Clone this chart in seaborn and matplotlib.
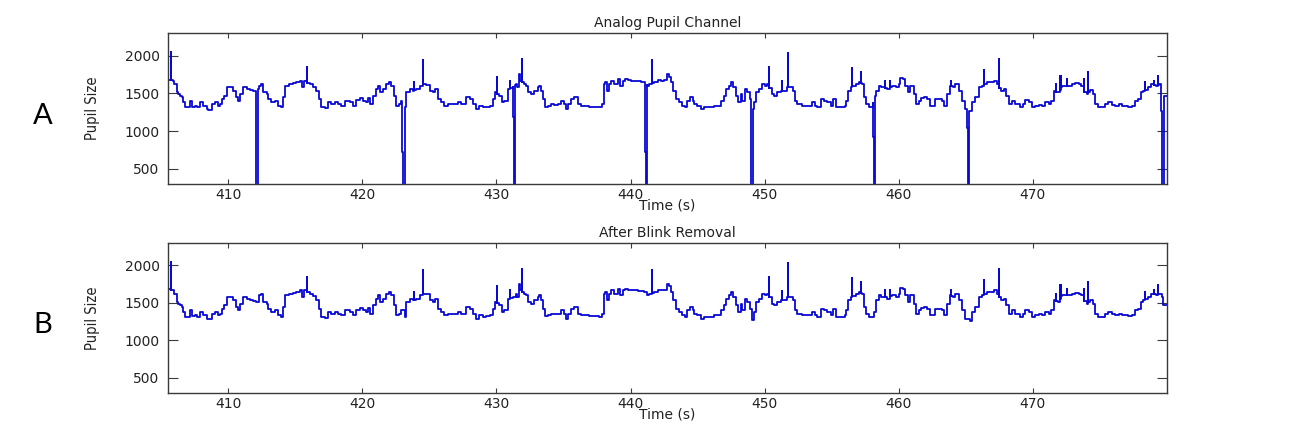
import numpy as np
import pandas as pd
import matplotlib
matplotlib.use("Agg")
import matplotlib.pyplot as plt
import seaborn as sns

# pupil trace after blink removal (time in s, pupil size)
base_t = [405.50, 405.90, 405.97, 406.15, 406.27, 406.39, 406.52, 406.64, 406.77, 407.01,
          407.14, 407.26, 407.51, 407.63, 407.88, 408.13, 408.38, 408.50, 408.75, 409.00,
          409.20, 409.37, 409.50, 409.69, 409.87, 410.12, 410.37, 410.54, 410.69, 410.86,
          411.11, 411.36, 411.61, 411.85, 412.10, 412.28, 412.47, 412.60, 412.85, 412.97,
          413.17, 413.34, 413.52, 413.72, 413.91, 414.09, 414.26, 414.51, 414.83, 415.08,
          415.33, 415.50, 415.65, 416.07, 416.32, 416.57, 416.74, 416.94, 417.19, 417.44,
          417.69, 417.94, 418.18, 418.43, 418.68,
          418.80, 419.05, 419.30, 419.55, 419.80, 420.04, 420.24, 420.42, 420.59, 420.79,
          420.99, 421.16, 421.33, 421.53, 421.78, 421.98, 422.15, 422.33, 422.53, 422.72,
          422.90, 423.15, 423.27, 423.52, 423.77, 424.02, 424.26, 424.51, 424.76, 425.01,
          425.26, 425.45, 425.63, 425.88, 426.12, 426.37, 426.75, 427.12, 427.37, 427.69,
          427.99, 428.24, 428.48, 428.73, 428.98, 429.23, 429.48, 429.72, 429.92, 430.22,
          430.42, 430.59, 430.84, 431.21, 431.46,
          431.54, 431.71, 431.78, 432.03, 432.21, 432.38, 432.58, 432.83, 433.08, 433.20,
          433.32, 433.45, 433.62, 433.82, 434.07, 434.32, 434.56, 434.81, 435.01, 435.19,
          435.36, 435.56, 435.81, 436.05, 436.30, 436.55, 436.92, 437.30, 437.67, 437.84,
          437.99, 438.09, 438.24, 438.41, 438.54, 438.74, 438.91, 439.08, 439.23, 439.40,
          439.58, 439.78, 440.03, 440.27, 440.52, 440.77, 441.02, 441.22, 441.39, 441.76,
          442.01, 442.26, 442.51, 442.71, 442.88, 443.00, 443.20, 443.38, 443.62, 443.87,
          444.05, 444.24, 444.44, 444.62,
          444.74, 444.99, 445.24, 445.48, 445.86, 446.23, 446.48, 446.73, 446.97, 447.15,
          447.35, 447.52, 447.64, 447.84, 448.04, 448.22, 448.34, 448.54, 448.71, 448.89,
          449.08, 449.21, 449.33, 449.58, 449.83, 450.03, 450.20, 450.52, 450.70, 450.94,
          451.19, 451.44, 451.57, 451.69, 451.94, 452.11, 452.26, 452.43, 452.81, 453.18,
          453.50, 453.75, 453.92, 454.17, 454.42, 454.67, 454.92, 455.09, 455.29, 455.66,
          455.98, 456.08, 456.23, 456.41, 456.78, 457.03, 457.27, 457.40, 457.57, 457.77,
          457.90, 458.14, 458.34, 458.52, 458.69, 458.89, 459.14, 459.51, 459.76, 460.01,
          460.13, 460.33, 460.50, 460.68, 460.87, 461.17, 461.32, 461.49, 461.67, 461.87,
          462.11, 462.31, 462.49, 462.74, 462.98, 463.23, 463.41, 463.60, 463.80, 464.05,
          464.22, 464.47, 464.72, 464.97, 465.29, 465.47, 465.71, 465.96, 466.21, 466.58,
          466.83, 467.08, 467.33, 467.63, 467.82, 468.02, 468.20, 468.44, 468.69, 469.01,
          469.26, 469.44, 469.68, 469.93, 470.18, 470.43, 470.68,
          470.92, 471.17, 471.37, 471.55, 471.87, 472.17, 472.36, 472.71, 472.91, 473.16,
          473.41, 473.61, 473.78, 474.03, 474.28, 474.45, 474.65, 474.85, 475.14, 475.39,
          475.64, 475.89, 476.14, 476.39, 476.63, 476.88, 477.13, 477.38, 477.63, 477.82,
          478.07, 478.25, 478.62, 478.82, 479.16, 479.41, 479.61, 479.74, 480.00]
base_v = [1680, 1670, 1625, 1514, 1492, 1470, 1448, 1381, 1314, 1314,
          1403, 1323, 1336, 1314, 1381, 1336, 1292, 1283, 1359, 1381,
          1336, 1359, 1425, 1470, 1581, 1581, 1536, 1448, 1403, 1492,
          1581, 1559, 1545, 1527, 1514, 1603, 1625, 1514, 1492, 1425,
          1381, 1381, 1403, 1336, 1314, 1448, 1603, 1625, 1634, 1647,
          1670, 1581, 1670, 1625, 1590, 1536, 1425, 1314, 1301, 1381,
          1359, 1381, 1359, 1336, 1403,
          1403, 1381, 1336, 1412, 1439, 1403, 1381, 1439, 1359, 1470,
          1559, 1603, 1514, 1559, 1625, 1647, 1603, 1470, 1336, 1359,
          1403, 1314, 1514, 1559, 1536, 1559, 1603, 1625, 1616, 1536,
          1514, 1559, 1425, 1381, 1336, 1359, 1359, 1381, 1359, 1448,
          1425, 1359, 1292, 1336, 1314, 1323, 1336, 1425, 1514, 1470,
          1381, 1403, 1559, 1581, 1625,
          1581, 1759, 1670, 1625, 1603, 1514, 1492, 1536, 1581, 1603,
          1536, 1425, 1323, 1336, 1359, 1350, 1359, 1403, 1359, 1292,
          1359, 1425, 1448, 1359, 1336, 1336, 1323, 1323, 1314, 1359,
          1625, 1647, 1536, 1625, 1670, 1625, 1625, 1692, 1603, 1670,
          1692, 1679, 1670, 1670, 1661, 1656, 1647, 1603, 1625, 1647,
          1679, 1670, 1679, 1759, 1723, 1647, 1536, 1425, 1381, 1336,
          1314, 1403, 1448, 1403,
          1359, 1336, 1292, 1314, 1314, 1336, 1336, 1403, 1470, 1559,
          1603, 1647, 1581, 1470, 1381, 1492, 1403, 1559, 1514, 1425,
          1270, 1381, 1514, 1559, 1625, 1603, 1625, 1492, 1470, 1514,
          1536, 1536, 1536, 1581, 1581, 1536, 1403, 1359, 1336, 1336,
          1381, 1336, 1314, 1425, 1403, 1381, 1336, 1425, 1314, 1314,
          1336, 1403, 1536, 1581, 1625, 1647, 1625, 1448, 1359, 1314,
          1314, 1381, 1536, 1603, 1581, 1581, 1559, 1603, 1581, 1625,
          1705, 1692, 1603, 1514, 1603, 1492, 1359, 1403, 1439, 1448,
          1425, 1336, 1336, 1425, 1425, 1403, 1336, 1492, 1603, 1581,
          1625, 1536, 1403, 1292, 1261, 1381, 1448, 1581, 1603, 1647,
          1647, 1670, 1625, 1536, 1559, 1470, 1359, 1403, 1359, 1314,
          1359, 1412, 1381, 1314, 1336, 1350, 1336,
          1381, 1359, 1403, 1536, 1514, 1603, 1603, 1603, 1625, 1634,
          1625, 1603, 1536, 1492, 1545, 1492, 1359, 1314, 1314, 1359,
          1381, 1350, 1336, 1359, 1336, 1336, 1323, 1336, 1403, 1425,
          1514, 1536, 1581, 1625, 1603, 1625, 1581, 1470, 1470]

# short upward spikes (time, peak)
spike_t = [405.70, 415.90, 423.82, 424.51, 430.05, 431.01, 431.88, 441.59, 450.32, 451.27,
           451.76, 456.53, 457.18, 458.96, 459.38, 463.90, 466.38, 467.50, 471.72, 471.99,
           472.12, 472.54, 473.85, 474.15, 478.37, 479.00, 479.31]
spike_v = [2047, 1847, 1647, 1936, 1723, 1670, 1959, 1945, 1847, 1661,
           2034, 1839, 1781, 1670, 1670, 1670, 1812, 1959, 1625, 1736,
           1736, 1692, 1692, 1781, 1647, 1670, 1736]

# blinks in the raw channel: start, end, level of the first drop
blink_start = [412.05, 422.95, 431.25, 441.10, 448.95, 458.10, 465.10, 479.55]
blink_end = [412.20, 423.15, 431.40, 441.20, 449.10, 458.25, 465.25, 479.75]
blink_step = [0, 725, 1190, 725, 1190, 924, 1035, 1260]

line_color = "#0808d2"


def add_spikes(t, v, st, sv):
    t, v = list(t), list(v)
    for ts, vs in zip(st, sv):
        b = float(np.interp(ts, t, v))
        i = int(np.searchsorted(t, ts))
        t[i:i] = [ts, ts, ts]
        v[i:i] = [b, vs, b]
    return t, v


def add_blinks(t, v, bs, be, bst):
    t, v = np.array(t), np.array(v)
    for s, e, lvl in zip(bs, be, bst):
        vs, ve = np.interp(s, t, v), np.interp(e, t, v)
        m = s + (e - s) * 0.4
        keep = (t < s) | (t > e)
        t, v = t[keep], v[keep]
        i = int(np.searchsorted(t, s))
        t = np.insert(t, i, [s, s, m, m, e, e])
        v = np.insert(v, i, [vs, lvl, lvl, 0, 0, ve])
    return t, v


clean_t, clean_v = add_spikes(base_t, base_v, spike_t, spike_v)
raw_t, raw_v = add_blinks(clean_t, clean_v, blink_start, blink_end, blink_step)

df_raw = pd.DataFrame({"Time (s)": raw_t, "Pupil Size": raw_v})
df_clean = pd.DataFrame({"Time (s)": clean_t, "Pupil Size": clean_v})

sns.set_style("white")
plt.rcParams["font.family"] = ["DejaVu Sans"]

fig = plt.figure(figsize=(12.9, 4.43), dpi=100)
ax1 = fig.add_axes([0.1302, 0.5847, 0.7744, 0.3409])
ax2 = fig.add_axes([0.1302, 0.1129, 0.7744, 0.3386])

panels = [(ax1, df_raw, "Analog Pupil Channel", "A"),
          (ax2, df_clean, "After Blink Removal", "B")]

for ax, df, title, letter in panels:
    sns.lineplot(data=df, x="Time (s)", y="Pupil Size", ax=ax, sort=False,
                 estimator=None, color=line_color, linewidth=1.3,
                 drawstyle="steps-post")
    ax.set_xlim(405.5, 480)
    ax.set_ylim(300, 2300)
    ax.set_xticks([410, 420, 430, 440, 450, 460, 470])
    ax.set_yticks([500, 1000, 1500, 2000])
    for sp in ax.spines.values():
        sp.set_visible(True)
        sp.set_color("#3a3a3a")
        sp.set_linewidth(1.0)
    ax.tick_params(axis="x", direction="in", length=3.5, width=0.8, top=True,
                   bottom=True, pad=3, labelsize=10, colors="#3a3a3a",
                   labelcolor="#222222")
    ax.tick_params(axis="y", direction="in", length=7, width=0.8, left=True,
                   right=True, pad=6, labelsize=10, colors="#3a3a3a",
                   labelcolor="#222222")
    ax.set_title(title, fontsize=10, color="#222222", pad=4)
    ax.set_xlabel("Time (s)", fontsize=10, color="#222222")
    ax.set_ylabel("Pupil Size", fontsize=10.5, fontstretch="condensed",
                  color="#222222")
    ax.xaxis.set_label_coords(0.5, -0.095)
    ax.yaxis.set_label_coords(-0.068, 0.5)
    ax.text(-0.125, 0.45, letter, transform=ax.transAxes, fontsize=21,
            family=["Lato", "DejaVu Sans"], ha="center", va="center",
            color="black")

fig.savefig("out.png", dpi=100, facecolor="white")
